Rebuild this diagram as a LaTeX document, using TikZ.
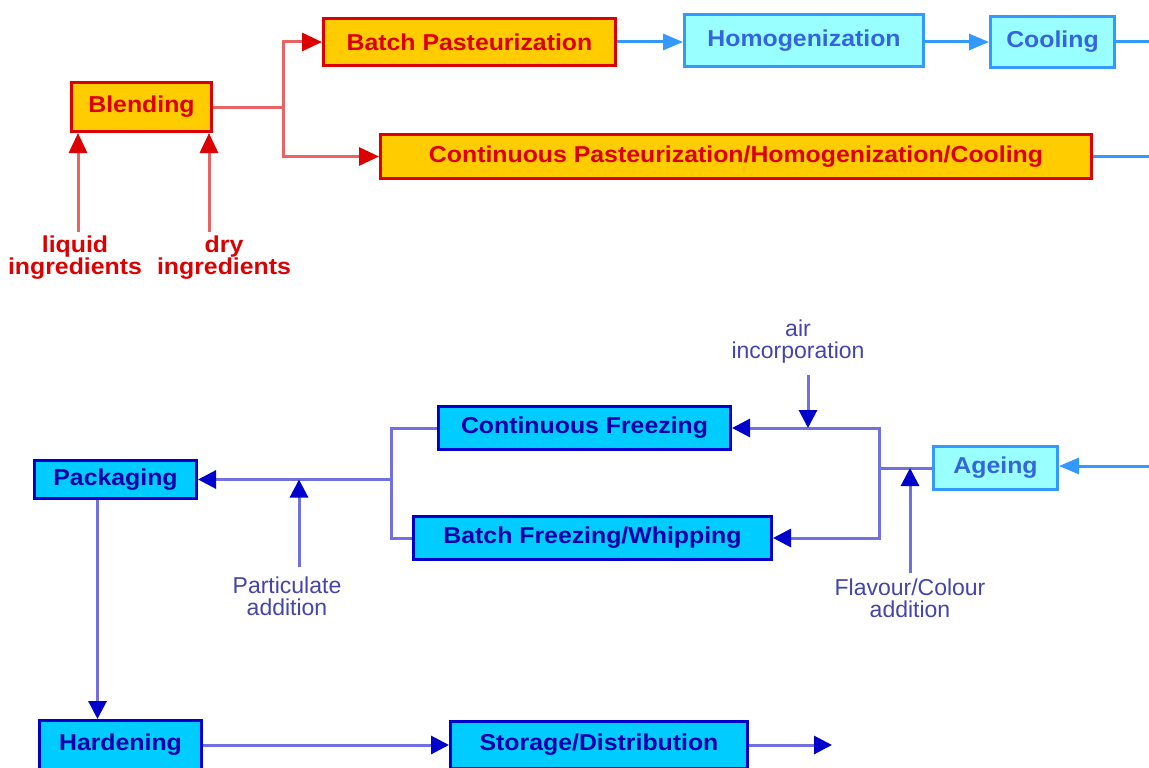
\documentclass[tikz,border=0pt]{standalone}
\usepackage{fontspec}
\setmainfont{Liberation Sans}
\newfontfamily\boxfont[FakeStretch=1.08]{Liberation Sans}
\usetikzlibrary{arrows.meta}
\definecolor{gold}{HTML}{FFCC00}
\definecolor{rd}{HTML}{DD0000}
\definecolor{rdline}{HTML}{E86464}
\definecolor{lcyan}{HTML}{99FFFF}
\definecolor{lblue}{HTML}{3399FF}
\definecolor{ltext}{HTML}{3366DD}
\definecolor{cyanb}{HTML}{00CCFF}
\definecolor{dblue}{HTML}{0000CC}
\definecolor{dtext}{HTML}{0000AA}
\definecolor{bline}{HTML}{7070E0}
\definecolor{labc}{HTML}{4444AA}
\begin{document}
\begin{tikzpicture}[x=1pt,y=-1pt,
  boxtext/.style={font=\boxfont\bfseries\fontsize{23}{25}\selectfont},
  redbox/.style={boxtext,draw=rd,fill=gold,line width=3pt,text=rd,inner sep=0pt},
  lbox/.style={boxtext,draw=lblue,fill=lcyan,line width=3pt,text=ltext,inner sep=0pt},
  dbox/.style={boxtext,draw=dblue,fill=cyanb,line width=3pt,text=dtext,inner sep=0pt},
  redlab/.style={text=rd,font=\boxfont\bfseries\fontsize{23}{22}\selectfont,align=center,inner sep=0pt},
  bluelab/.style={text=labc,font=\fontsize{23}{22}\selectfont,align=center,inner sep=0pt},
  redcon/.style={draw=rdline,line width=3pt,-{Triangle[length=20pt,width=18pt,color=rd]}},
  redseg/.style={draw=rdline,line width=3pt},
  lcon/.style={draw=lblue,line width=3pt,-{Triangle[length=20pt,width=16pt,color=lblue]}},
  lseg/.style={draw=lblue,line width=3pt},
  bcon/.style={draw=bline,line width=3pt,-{Triangle[length=18pt,width=18pt,color=dblue]}},
  bseg/.style={draw=bline,line width=3pt},
]
\useasboundingbox (0,0) rectangle (1149,768);

% top section
\node[redbox,minimum width=140pt,minimum height=49pt] (blend) at (141.5,107) {Blending};
\node[redbox,minimum width=292pt,minimum height=47pt] (batchp) at (469.5,42) {Batch Pasteurization};
\node[lbox,minimum width=239pt,minimum height=52pt] (homog) at (804,40.5) {Homogenization};
\node[lbox,minimum width=124pt,minimum height=51pt] (cool) at (1052.5,42) {Cooling};
\node[redbox,minimum width=711pt,minimum height=44pt] (contp) at (736,156.5) {Continuous Pasteurization/Homogenization/Cooling};

\node[redlab] (liqL) at (75,258) {liquid\\ingredients};
\node[redlab] (dryL) at (224,258) {dry\\ingredients};
\coordinate (liq) at (78,232);
\coordinate (dry) at (209,232);
\draw[redcon] (liq) -- (liq |- blend.south);
\draw[redcon] (dry) -- (dry |- blend.south);

\coordinate (jB) at (283,107);
\draw[redseg] (blend.east) -- (jB);
\draw[redcon] (jB) |- (batchp.west);
\draw[redcon] (jB) |- (contp.west);

\coordinate (outCool) at (1149,42);
\coordinate (outCont) at (1149,156.5);
\draw[lcon] (batchp.east) -- (batchp.east -| homog.west);
\draw[lcon] (homog.east |- cool.west) -- (cool.west);
\draw[lseg] (cool.east) -- (outCool);
\draw[lseg] (contp.east) -- (outCont);

% bottom section
\node[dbox,minimum width=292pt,minimum height=43pt] (cfreeze) at (584.5,428) {Continuous Freezing};
\node[dbox,minimum width=358pt,minimum height=43pt] (bfreeze) at (592.5,538) {Batch Freezing/Whipping};
\node[lbox,minimum width=124pt,minimum height=43pt] (ageing) at (995.5,468) {Ageing};
\node[dbox,minimum width=162pt,minimum height=38pt] (pack) at (115.5,479.5) {Packaging};
\node[dbox,minimum width=162pt,minimum height=49pt] (harden) at (120.5,745) {Hardening};
\node[dbox,minimum width=297pt,minimum height=47pt] (storage) at (599,745) {Storage/Distribution};

\coordinate (inAge) at (1149,466);
\draw[lcon] (inAge) -- (inAge -| ageing.east);

\coordinate (jA) at (879,468);
\draw[bseg] (ageing.west) -- (jA);
\draw[bcon] (jA) |- (cfreeze.east);
\draw[bcon] (jA) |- (bfreeze.east);

\node[bluelab] (airL) at (798,342) {air\\incorporation};
\coordinate (airS) at (808,375);
\draw[bcon] (airS) -- (airS |- cfreeze.east);

\node[bluelab] (flavL) at (910,598) {Flavour/Colour\\addition};
\coordinate (flS) at (910,573);
\draw[bcon] (flS) -- (flS |- jA);

\coordinate (jP) at (391,479.5);
\draw[bseg] (cfreeze.west) -| (jP);
\draw[bseg] (bfreeze.west) -| (jP);
\draw[bcon] (jP) -- (pack.east);

\node[bluelab] (partL) at (287,596) {Particulate\\addition};
\coordinate (paS) at (299,567);
\draw[bcon] (paS) -- (paS |- pack.east);

\draw[bcon] ([xshift=-18pt]pack.south) -- ([xshift=-18pt]pack.south |- harden.north);
\draw[bcon] (harden.east) -- (harden.east -| storage.west);
\coordinate (outSt) at (832,745);
\draw[bcon] (storage.east) -- (outSt);
\end{tikzpicture}
\end{document}
